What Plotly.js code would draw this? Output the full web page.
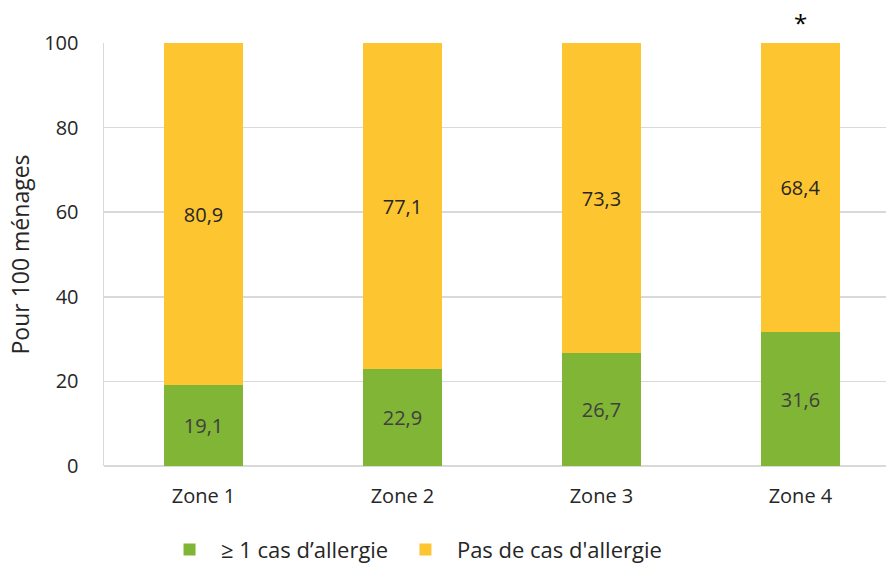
<!DOCTYPE html>
<html><head><meta charset="utf-8">
<script src="https://cdn.plot.ly/plotly-3.0.1.min.js"></script>
<style>html,body{margin:0;padding:0;background:#fff}#c{width:886px;height:563px}</style>
</head><body><div id="c"></div>
<script>
const zones = ['Zone 1','Zone 2','Zone 3','Zone 4'];
const allergie = [19.1, 22.9, 26.7, 31.6];
const pasAllergie = [80.9, 77.1, 73.3, 68.4];
const seriesNames = ['≥ 1 cas d’allergie', "Pas de cas d'allergie"];
const yTicks = [0, 20, 40, 60, 80, 100];

const font = 'Open Sans, Noto Sans, sans-serif';
const traces = [
  {type:'bar', x:zones, y:allergie, name:'  ' + seriesNames[0], marker:{color:'#80B535'}, legend:'legend', showlegend:true,
   texttemplate:'%{y:.1f}', textposition:'inside', insidetextanchor:'middle', constraintext:'none',
   textfont:{family:font,size:20,color:'#404040'}, width:0.4, hoverinfo:'none'},
  {type:'bar', x:zones, y:pasAllergie, name:'  ' + seriesNames[1], marker:{color:'#FDC530'}, legend:'legend2', showlegend:true,
   texttemplate:'%{y:.1f}', textposition:'inside', insidetextanchor:'middle', constraintext:'none',
   textfont:{family:font,size:20,color:'#262626'}, width:0.4, hoverinfo:'none'}
];
const legendBase = {orientation:'h', xanchor:'left', y:-0.198, yanchor:'middle',
                    font:{size:22,color:'#262626'}, itemwidth:30, bgcolor:'rgba(0,0,0,0)'};
const layout = {
  width:886, height:563, barmode:'stack', separators:', ', showlegend:true,
  margin:{l:104, r:0, t:43, b:97, autoexpand:false},
  paper_bgcolor:'#fff', plot_bgcolor:'#fff',
  font:{family:font, color:'#262626'},
  xaxis:{range:[-0.5,3.43], showgrid:false, showline:false, zeroline:false,
         ticks:'', ticklabelstandoff:16, tickfont:{size:20,color:'#262626'}, fixedrange:true},
  yaxis:{range:[0,100], tickvals:yTicks, showgrid:true, gridcolor:'#d9d9d9', gridwidth:1.5,
         showline:true, linecolor:'#d9d9d9', linewidth:1.5, zeroline:true, zerolinecolor:'#d9d9d9', zerolinewidth:1.5,
         ticks:'', ticklen:0, ticklabelstandoff:20, tickfont:{size:20,color:'#262626'}, automargin:false,
         title:{text:'Pour 100 ménages', font:{size:23,color:'#262626'}, standoff:8}},
  legend:Object.assign({}, legendBase, {x:0.0838}),
  legend2:Object.assign({}, legendBase, {x:0.3855}),
  annotations:[{x:'Zone 4', y:100, xref:'x', yref:'y', text:'*', showarrow:false,
                yanchor:'bottom', yshift:2, font:{size:24,color:'#000'}}]
};
Plotly.newPlot('c', traces, layout, {displayModeBar:false, staticPlot:true});
</script></body></html>
